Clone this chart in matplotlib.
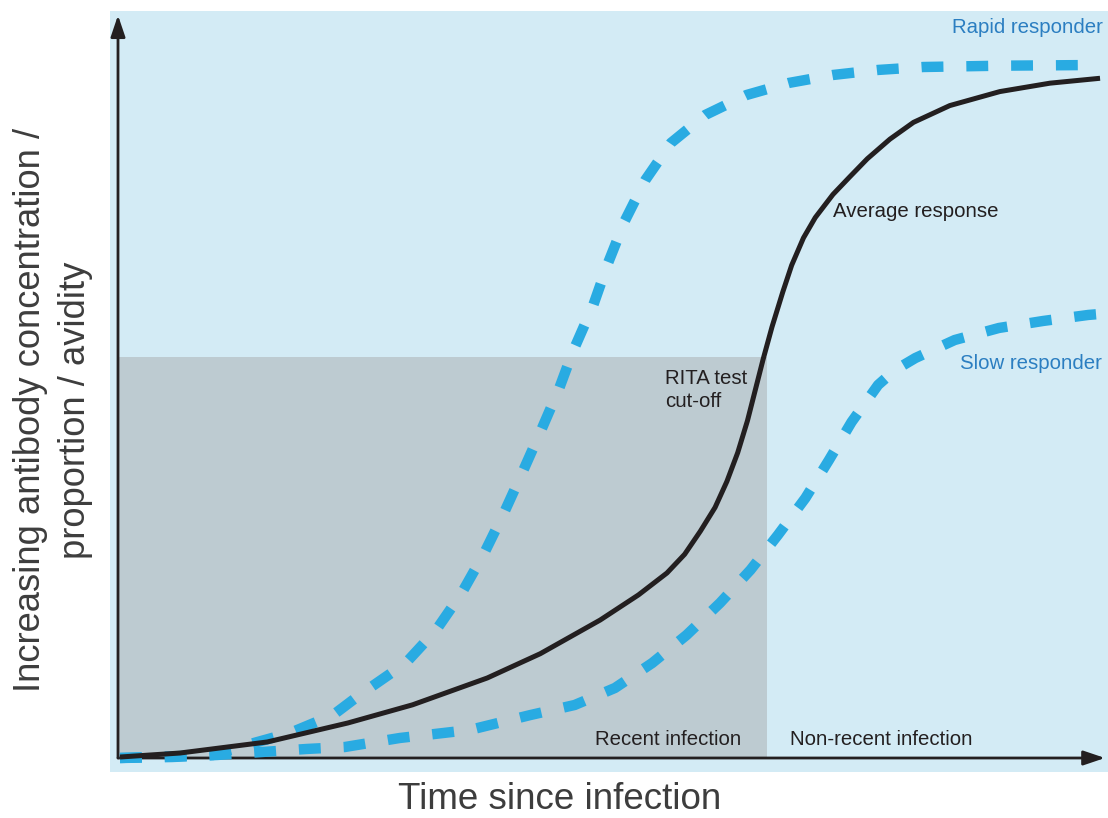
import matplotlib
matplotlib.use("Agg")
import matplotlib.pyplot as plt
from matplotlib.patches import Rectangle

plt.rcParams['font.family'] = ['Liberation Sans', 'DejaVu Sans']

# ---- data (time units 0-10, response 0-100) ----
avg_t = [0.02, 0.63, 1.52, 2.34, 3.0, 3.76, 4.3, 4.91, 5.3, 5.59, 5.77, 5.93, 6.08, 6.20,
         6.31, 6.41, 6.49, 6.57, 6.66, 6.77, 6.86, 6.98, 7.10, 7.28, 7.45, 7.63, 7.86,
         8.10, 8.47, 8.98, 9.49, 10.0]
avg_y = [0.14, 0.71, 2.29, 5.0, 7.6, 11.43, 14.9, 19.71, 23.3, 26.43, 29.1, 32.4, 35.8, 39.5,
         43.6, 48.2, 52.6, 57.0, 61.6, 66.6, 70.4, 74.3, 77.2, 80.5, 83.0, 85.6, 88.4,
         90.8, 93.2, 95.2, 96.4, 97.1]

rapid_t = [0.02, 0.97, 1.31, 1.75, 2.19, 2.46, 2.93, 3.24, 3.50, 3.73, 3.93, 4.12, 4.31,
           4.49, 4.63, 4.84, 4.99, 5.16, 5.37, 5.63, 5.98, 6.40, 6.83, 7.28, 7.74, 8.20,
           9.0, 10.0]
rapid_y = [0.0, 0.43, 1.86, 3.57, 6.14, 9.0, 13.57, 18.29, 23.57, 29.29, 35.0, 40.86, 46.86,
           52.71, 58.0, 64.71, 70.71, 76.71, 82.57, 87.86, 91.86, 94.71, 96.43, 97.57, 98.29,
           98.71, 98.9, 99.0]

slow_t = [0.02, 0.55, 1.01, 1.47, 1.92, 2.31, 2.87, 3.58, 4.20, 4.65, 5.06, 5.44, 5.79,
          6.13, 6.44, 6.72, 7.00, 7.24, 7.47, 7.74, 7.91, 8.12, 8.52, 8.97, 9.42, 9.88, 10.0]
slow_y = [0.0, 0.14, 0.43, 0.86, 1.29, 1.57, 2.86, 4.0, 6.14, 7.57, 10.0, 13.57, 17.57,
          22.14, 26.86, 31.86, 37.14, 42.57, 48.0, 53.29, 55.4, 57.14, 59.71, 61.43, 62.43,
          63.29, 63.43]

cutoff_t = 6.61
cutoff_y = 57.3

# ---- colours ----
panel_c = '#d3ebf5'
gray_c = '#bdcbd1'
dash_c = '#29abe2'
blue_txt = '#2b7ec1'
dark = '#231f20'
label_c = '#3d3d3d'

fig = plt.figure(figsize=(11.08, 8.18), dpi=100)
fig.patch.set_facecolor('white')
ax = fig.add_axes([110/1108, 46/818, 998/1108, 761/818])
ax.set_facecolor(panel_c)
ax.set_xlim(-0.0815, 10.081)
ax.set_ylim(-2.0, 106.71)
for s in ax.spines.values():
    s.set_visible(False)
ax.set_xticks([])
ax.set_yticks([])

ax.add_patch(Rectangle((0, 0), cutoff_t, cutoff_y, facecolor=gray_c, edgecolor='none', zorder=1))

# axes arrows
arrow_kw = dict(arrowstyle='-|>,head_length=0.65,head_width=0.22', lw=2, color=dark,
                mutation_scale=20, shrinkA=0, shrinkB=0)
ax.annotate('', xy=(0, 106.1), xytext=(0, 0), arrowprops=arrow_kw, zorder=2)
ax.annotate('', xy=(10.05, 0), xytext=(0, 0), arrowprops=arrow_kw, zorder=2)

dash_kw = dict(color=dash_c, lw=7.5, dashes=(2.1, 2.2), dash_capstyle='butt',
               dash_joinstyle='round', zorder=3)
ax.plot(rapid_t, rapid_y, **dash_kw)
ax.plot(slow_t, slow_y, **dash_kw)
ax.plot(avg_t, avg_y, color=dark, lw=3.6, solid_capstyle='butt', solid_joinstyle='round',
        zorder=4)

fs = 14.7
ax.text(10.03, 104.4, 'Rapid responder', color=blue_txt, fontsize=fs, ha='right', va='center')
ax.text(10.02, 56.4, 'Slow responder', color=blue_txt, fontsize=fs, ha='right', va='center')
ax.text(7.28, 78.0, 'Average response', color=dark, fontsize=fs, ha='left', va='center')
ax.text(5.57, 52.6, 'RITA test\ncut-off', color=dark, fontsize=fs, ha='left', va='center',
        linespacing=1.25)
ax.text(4.86, 2.7, 'Recent infection', color=dark, fontsize=fs, ha='left', va='center')
ax.text(6.84, 2.7, 'Non-recent infection', color=dark, fontsize=fs, ha='left', va='center')

fig.text(560/1108, 1 - 809/818, 'Time since infection', color=label_c, fontsize=26.5,
         ha='center', va='baseline')
fig.text(53/1108, 1 - 410/818, 'Increasing antibody concentration /\nproportion / avidity',
         color=label_c, fontsize=26.2, ha='center', va='center', rotation=90,
         multialignment='center', linespacing=1.4)

fig.savefig('out.png', dpi=100, facecolor='white')
